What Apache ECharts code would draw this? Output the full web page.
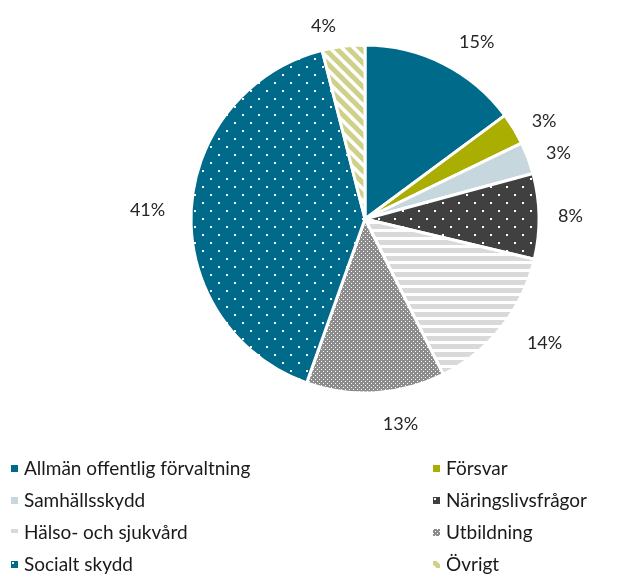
<!DOCTYPE html>
<html>
<head>
<meta charset="utf-8">
<script src="https://cdn.jsdelivr.net/npm/echarts@6/dist/echarts.min.js"></script>
<style>
  html, body { margin: 0; padding: 0; background: #fff; }
  #chart { width: 619px; height: 577px; }
</style>
</head>
<body>
<div id="chart"></div>
<script>
// andelar i procent, medurs från kl. 12
const categories = [
  'Allmän offentlig förvaltning', 'Försvar', 'Samhällsskydd', 'Näringslivsfrågor',
  'Hälso- och sjukvård', 'Utbildning', 'Socialt skydd', 'Övrigt'
]
const shares = [15, 3, 3, 8, 14, 13, 41, 4]
const leftLegend = ['Allmän offentlig förvaltning', 'Samhällsskydd', 'Hälso- och sjukvård', 'Socialt skydd']
const rightLegend = ['Försvar', 'Näringslivsfrågor', 'Utbildning', 'Övrigt']

function tile(w, h, draw) {
  const c = document.createElement('canvas')
  c.width = w
  c.height = h
  draw(c.getContext('2d'))
  return { image: c, repeat: 'repeat' }
}

function dots(bg) {
  return tile(16, 16, ctx => {
    ctx.fillStyle = bg
    ctx.fillRect(0, 0, 16, 16)
    ctx.fillStyle = '#fff'
    ctx.fillRect(2, 2, 2, 2)
    ctx.fillRect(10, 10, 2, 2)
  })
}

const stripes = tile(8, 8, ctx => {
  ctx.fillStyle = '#fff'
  ctx.fillRect(0, 0, 8, 8)
  ctx.fillStyle = '#d9d9d9'
  ctx.fillRect(0, 0, 8, 5)
})

const hatch = tile(4, 4, ctx => {
  ctx.fillStyle = '#8c8c8c'
  ctx.fillRect(0, 0, 4, 4)
  ctx.fillStyle = '#fff'
  ctx.fillRect(1, 1, 1, 1)
  ctx.fillRect(3, 3, 1, 1)
})

const diag = tile(12, 12, ctx => {
  ctx.fillStyle = '#fff'
  ctx.fillRect(0, 0, 12, 12)
  ctx.strokeStyle = '#cfd08a'
  ctx.lineWidth = 5
  for (let k = -1; k <= 1; k++) {
    ctx.beginPath()
    ctx.moveTo(k * 12 - 2, -2)
    ctx.lineTo(k * 12 + 14, 14)
    ctx.stroke()
  }
})

const fills = ['#006a8a', '#a9ae00', '#c6d8de', dots('#404040'), stripes, hatch, dots('#006a8a'), diag]
// avstånd etikett - kant per tårtbit
const labelGap = [24, 15, 14, 14, 26, 32, 21, 20]

const chart = echarts.init(document.getElementById('chart'))

const legendBase = {
  orient: 'vertical',
  top: 452,
  height: 125,
  itemWidth: 9,
  itemHeight: 9,
  itemGap: 9,
  icon: 'rect',
  selectedMode: false,
  textStyle: { fontFamily: 'Lato', fontSize: 19, color: '#1a1a1a', lineHeight: 23 },
}

chart.setOption({
  animation: false,
  legend: [
    { ...legendBase, left: 4, data: leftLegend },
    { ...legendBase, left: 426, data: rightLegend },
  ],
  series: [{
    type: 'pie',
    center: [365, 219],
    radius: [0, 174],
    startAngle: 90,
    clockwise: true,
    itemStyle: { borderColor: '#fff', borderWidth: 3 },
    label: {
      show: true,
      position: 'outside',
      formatter: p => p.value + '%',
      fontFamily: 'Lato',
      fontSize: 18,
      color: '#262626',
    },
    labelLine: { show: false, length: 20, length2: 0 },
    data: categories.map((name, i) => ({
      name,
      value: shares[i],
      itemStyle: { color: fills[i] },
      labelLine: { length: labelGap[i] },
    })),
  }],
})
</script>
</body>
</html>
